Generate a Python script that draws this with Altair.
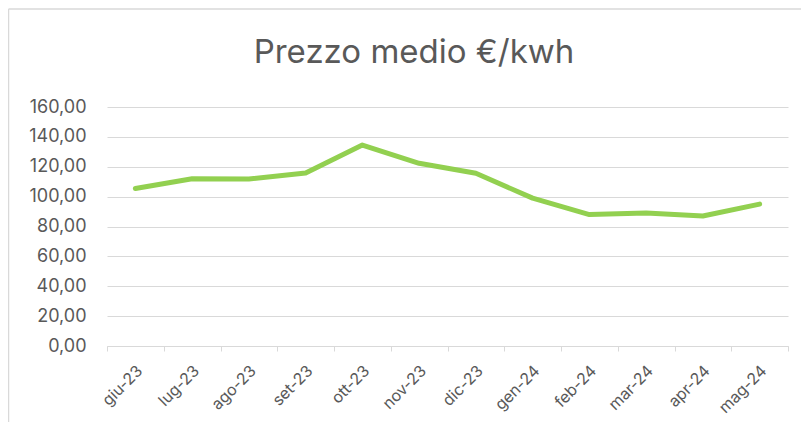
import altair as alt
import pandas as pd

mesi = ["giu-23", "lug-23", "ago-23", "set-23", "ott-23", "nov-23",
        "dic-23", "gen-24", "feb-24", "mar-24", "apr-24", "mag-24"]
prezzi = [105.4, 112.0, 111.8, 115.8, 134.5, 122.3,
          115.6, 99.0, 88.0, 89.0, 87.0, 95.0]
titolo = "Prezzo medio €/kwh"

df = pd.DataFrame({"mese": mesi, "prezzo": prezzi})

GREY_TXT = "#595959"
GRID = "#d9d9d9"
FONT = "Inter"

x_enc = alt.X(
    "mese:N",
    sort=mesi,
    bandPosition=0.5,
    scale=alt.Scale(type="band", paddingInner=0, paddingOuter=0),
    axis=alt.Axis(
        title=None,
        labelAngle=-45,
        labelAlign="right",
        labelBaseline="middle",
        labelPadding=17,
        labelOffset=4,
        labelFontSize=16,
        labelColor=GREY_TXT,
        labelFont=FONT,
        domainColor=GRID,
        domainWidth=1,
        tickColor=GRID,
        tickSize=5,
        tickBand="extent",
        grid=False,
    ),
)

y_enc = alt.Y(
    "prezzo:Q",
    scale=alt.Scale(domain=[0, 160]),
    axis=alt.Axis(
        title=None,
        values=[0, 20, 40, 60, 80, 100, 120, 140, 160],
        labelExpr="replace(format(datum.value, '.2f'), '.', ',')",
        labelFontSize=18,
        labelColor=GREY_TXT,
        labelFont=FONT,
        labelPadding=21,
        domain=False,
        ticks=False,
        grid=True,
        gridColor=GRID,
        gridWidth=1,
    ),
)

line = alt.Chart(df).mark_line(
    color="#92D050", strokeWidth=5, strokeCap="round", strokeJoin="round"
).encode(x=x_enc, y=y_enc)

one = df.head(1)

top_border = alt.Chart(one).mark_rule(color=GRID, strokeWidth=1.5, clip=False).encode(
    x=alt.value(-98.5), x2=alt.value(720), y=alt.value(-98)
)
left_border = alt.Chart(one).mark_rule(color=GRID, strokeWidth=1.5, clip=False).encode(
    x=alt.value(-98.5), y=alt.value(-98), y2=alt.value(340)
)

title = alt.Chart(one).mark_text(
    font=FONT, fontSize=33, color=GREY_TXT, align="center",
    baseline="alphabetic", clip=False
).encode(
    x=alt.value(307), y=alt.value(-44), text=alt.value(titolo)
)

chart = alt.layer(top_border, left_border, title, line).properties(
    width=681,
    height=239,
    autosize=alt.AutoSizeParams(type="none"),
    padding={"left": 99, "top": 99, "right": 13, "bottom": 76},
).configure_view(stroke=None)

chart.save("out.html", embed_options={"renderer": "svg", "actions": False})
